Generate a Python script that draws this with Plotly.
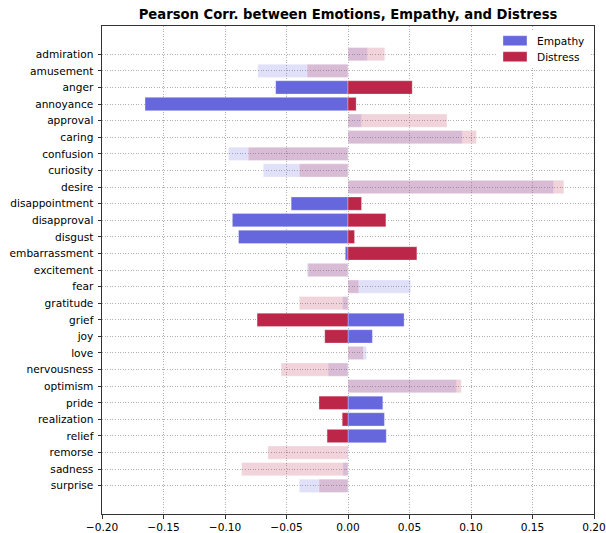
import plotly.graph_objects as go

categories = ["admiration", "amusement", "anger", "annoyance", "approval", "caring",
              "confusion", "curiosity", "desire", "disappointment", "disapproval",
              "disgust", "embarrassment", "excitement", "fear", "gratitude", "grief",
              "joy", "love", "nervousness", "optimism", "pride", "realization",
              "relief", "remorse", "sadness", "surprise"]

empathy = [0.0157, -0.0733, -0.0588, -0.165, 0.011, 0.0928, -0.0972, -0.0689, 0.167,
           -0.0462, -0.094, -0.089, -0.0022, -0.0333, 0.051, -0.0044, 0.0456, 0.0198,
           0.015, -0.016, 0.088, 0.0283, 0.0296, 0.0311, -0.0005, -0.0041, -0.0396]

distress = [0.0299, -0.0333, 0.0522, 0.0066, 0.0805, 0.1044, -0.0811, -0.0396, 0.1755,
            0.011, 0.0308, 0.0053, 0.056, -0.0325, 0.0088, -0.0396, -0.0739, -0.0189,
            0.0126, -0.0544, 0.0921, -0.0236, -0.0047, -0.017, -0.0651, -0.0865, -0.0236]

# significant correlations drawn solid, others faded
significant = [False, False, True, True, False, False, False, False, False,
               True, True, True, True, False, False, False, True,
               True, False, False, False, True, True,
               True, False, False, False]

x_ticks = [-0.20, -0.15, -0.10, -0.05, 0.00, 0.05, 0.10, 0.15, 0.20]
x_tick_labels = ["\u22120.20", "\u22120.15", "\u22120.10", "\u22120.05", "0.00",
                 "0.05", "0.10", "0.15", "0.20"]

BLUE = (102, 102, 221)
RED = (187, 38, 73)


def colors(base, sig):
    return [f"rgba({base[0]},{base[1]},{base[2]},{1.0 if s else 0.2})" for s in sig]


FONT = "DejaVu Sans"
L, R, T, B = 102, 12, 26, 19
PW, PH = 606 - L - R, 533 - T - B

fig = go.Figure()
fig.add_trace(go.Bar(
    y=categories, x=empathy, orientation="h", name="Empathy", width=0.8,
    marker=dict(color=colors(BLUE, significant),
                line=dict(color="rgba(255,255,255,0.5)", width=0.6)),
    showlegend=False,
))
fig.add_trace(go.Bar(
    y=categories, x=distress, orientation="h", name="Distress", width=0.8,
    marker=dict(color=colors(RED, significant),
                line=dict(color="rgba(255,255,255,0.5)", width=0.6)),
    showlegend=False,
))


def px_x(x):
    return (x - L) / PW


def px_y(y):
    return (533 - B - y) / PH


# legend (matplotlib-style patches)
legend_items = [("Empathy", BLUE), ("Distress", RED)]
fig.add_shape(type="rect", xref="paper", yref="paper",
              x0=px_x(497), x1=px_x(590), y0=px_y(66), y1=px_y(31),
              fillcolor="white", line=dict(width=0), layer="above")
for i, (name, c) in enumerate(legend_items):
    yc = 40.7 + 16 * i
    fig.add_shape(type="rect", xref="paper", yref="paper",
                  x0=px_x(503), x1=px_x(527), y0=px_y(yc + 5), y1=px_y(yc - 5),
                  fillcolor=f"rgb({c[0]},{c[1]},{c[2]})",
                  line=dict(color="rgba(255,255,255,0.6)", width=0.6), layer="above")
    fig.add_annotation(xref="paper", yref="paper", x=px_x(535), y=px_y(yc),
                       text=name, showarrow=False, xanchor="left", yanchor="middle",
                       font=dict(family=FONT, size=10.6, color="#000"))

fig.update_layout(
    width=606, height=533,
    margin=dict(l=L, r=R, t=T, b=B),
    paper_bgcolor="white", plot_bgcolor="white",
    barmode="overlay",
    font=dict(family=FONT, size=10.6, color="#000"),
    title=dict(text="<b>Pearson Corr. between Emotions, Empathy, and Distress</b>",
               x=(L + 606 - R) / 2 / 606, xanchor="center", y=1 - 14.5 / 533,
               yanchor="middle", font=dict(family=FONT, size=13.2, color="#000")),
)
grid = dict(showgrid=True, gridcolor="#b0b0b0", griddash="1px,1.6px", gridwidth=0.8,
            zeroline=False, showline=True, linecolor="#333", linewidth=1, mirror=True,
            ticks="outside", ticklen=3.5, tickcolor="#333", tickwidth=0.8,
            automargin=False, ticklabeloverflow="allow",
            tickfont=dict(family=FONT, size=10.6, color="#000"))
fig.update_xaxes(range=[-0.2, 0.2], tickvals=x_ticks, ticktext=x_tick_labels, **grid)
fig.update_yaxes(type="category", categoryorder="array", categoryarray=categories,
                 range=[27.7, -1.7], ticklabelstandoff=2, **grid)

fig.write_html(
    "out.html",
    config={"displayModeBar": False},
    post_script="document.body.style.margin='0';document.body.style.padding='0';"
                "document.body.style.overflow='hidden';",
)
